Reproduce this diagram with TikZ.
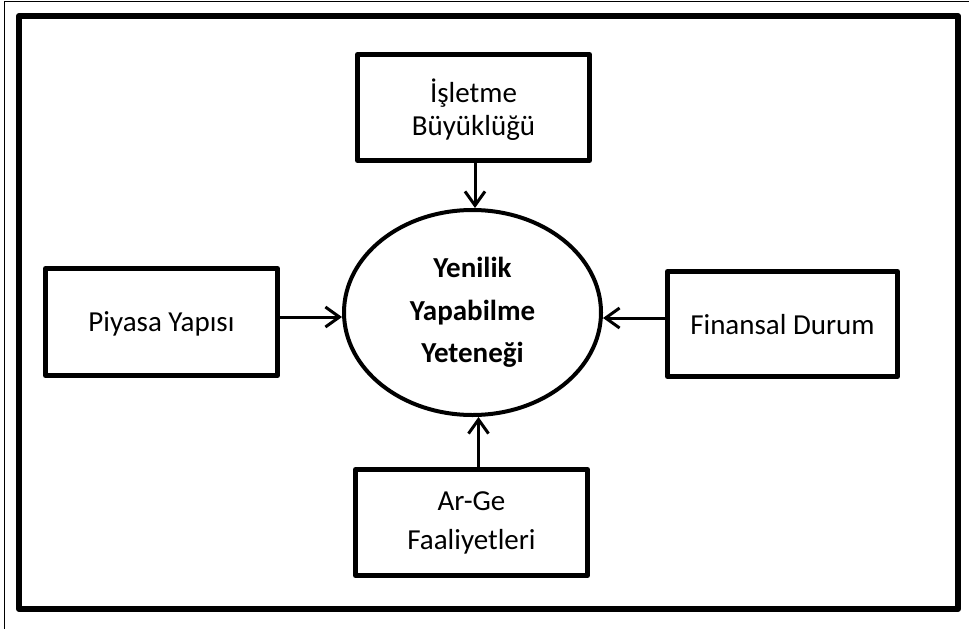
\documentclass[tikz,border=0pt]{standalone}
\usepackage{fontspec}
\setmainfont{Carlito}
\usetikzlibrary{shapes.geometric,arrows.meta}
\begin{document}
\begin{tikzpicture}[x=1pt,y=-1pt,
  factor/.style={draw,line width=5pt,line join=round,minimum width=232pt,
    minimum height=106pt,inner sep=0pt,align=center,
    font=\fontsize{29}{31}\selectfont},
  core/.style={draw,ellipse,line width=4pt,minimum width=257pt,
    minimum height=205pt,inner sep=0pt,align=center,
    font=\fontsize{29}{42.5}\selectfont\bfseries},
  arr/.style={line width=3pt,
    -{Straight Barb[length=14pt,width=20pt,line width=3pt]}},
  frame/.style={line width=6pt,line join=round}
]
\useasboundingbox (0,0) rectangle (969,629);

% outer thin rule and inner heavy frame
\draw[line width=1.5pt] (4.5,629) -- (4.5,1.5) -- (969,1.5);
\draw[frame] (19,16) rectangle (958,609);

% central concept
\node[core] (ell) at (472.5,312.5) {Yenilik\\Yapabilme\\Yeteneği};

% influencing factors
\node[factor,font=\fontsize{29}{33}\selectfont,text depth=0pt] (top) at (473.5,107.5) {İşletme\\Büyüklüğü};
\node[factor,minimum height=107pt,text depth=0pt] (lft) at (161.5,322) {Piyasa Yapısı};
\node[factor,minimum width=230pt,minimum height=105pt,text depth=0pt] (rgt) at (782.5,324) {Finansal Durum};
\node[factor,font=\fontsize{29}{39}\selectfont] (bot) at (471.5,522.5) {Ar-Ge\\Faaliyetleri};

% arrows into the ellipse
\draw[arr] ([xshift=1.5pt]top.south) -- ([xshift=1.5pt]top.south |- ell.north);
\draw[arr] ([yshift=5pt]lft.east) -- ([yshift=5pt]lft.east -| ell.west);
\draw[arr] ([yshift=6pt]rgt.west) -- ([yshift=6pt]rgt.west -| ell.east);
\draw[arr] ([xshift=7pt]bot.north) -- ([xshift=7pt]bot.north |- ell.south);
\end{tikzpicture}
\end{document}
